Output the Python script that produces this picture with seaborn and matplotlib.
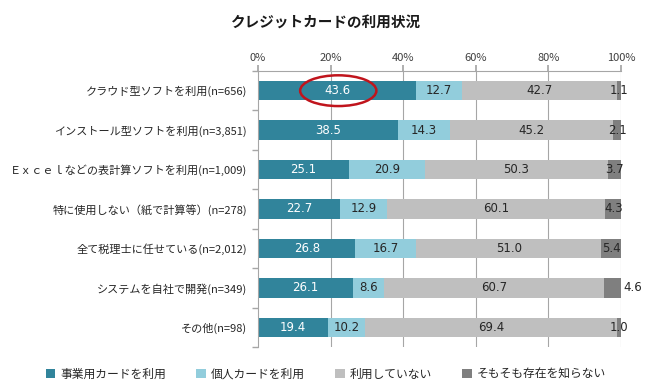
import matplotlib
matplotlib.use("Agg")
import matplotlib.pyplot as plt
from matplotlib.patches import Ellipse, Patch
import seaborn as sns
import pandas as pd
import numpy as np

categories = [
    "クラウド型ソフトを利用(n=656)",
    "インストール型ソフトを利用(n=3,851)",
    "Ｅｘｃｅｌなどの表計算ソフトを利用(n=1,009)",
    "特に使用しない（紙で計算等）(n=278)",
    "全て税理士に任せている(n=2,012)",
    "システムを自社で開発(n=349)",
    "その他(n=98)",
]
series_names = ["事業用カードを利用", "個人カードを利用", "利用していない", "そもそも存在を知らない"]
business_card = [43.6, 38.5, 25.1, 22.7, 26.8, 26.1, 19.4]
personal_card = [12.7, 14.3, 20.9, 12.9, 16.7, 8.6, 10.2]
not_using = [42.7, 45.2, 50.3, 60.1, 51.0, 60.7, 69.4]
unaware = [1.1, 2.1, 3.7, 4.3, 5.4, 4.6, 1.0]
xtick_labels = ["0%", "20%", "40%", "60%", "80%", "100%"]

colors = ["#31849B", "#92CDDC", "#BFBFBF", "#7F7F7F"]
text_colors = ["white", "#262626", "#262626", "#262626"]

sns.set_theme(style="white")
plt.rcParams['font.family'] = ['Noto Sans CJK JP', 'DejaVu Sans']

vals = np.array([business_card, personal_card, not_using, unaware], dtype=float)
totals = vals.sum(axis=0)
norm = vals / totals * 100
cum = np.cumsum(norm, axis=0)

df = pd.DataFrame({"cat": categories})
for i in range(4):
    df[f"c{i}"] = cum[i]

fig = plt.figure(figsize=(6.65, 3.91), dpi=100)
ax = fig.add_axes([0.388, 0.1125, 0.546, 0.706])

for i in range(3, -1, -1):
    sns.barplot(data=df, x=f"c{i}", y="cat", color=colors[i], width=0.49,
                ax=ax, orient="h", saturation=1, edgecolor="none")

ax.set_xlim(0, 100)
ax.set_ylim(6.5, -0.5)
ax.set_xlabel("")
ax.set_ylabel("")
ax.xaxis.tick_top()
ax.set_xticks([0, 20, 40, 60, 80, 100])
ax.set_xticklabels(xtick_labels)
ax.tick_params(axis="x", which="both", length=4, color="#A6A6A6", direction="out",
               labelsize=8, labelcolor="#404040", pad=2, top=True, bottom=False)
for xv in [20, 40, 60, 80, 100]:
    ax.axvline(xv, color="#A6A6A6", lw=0.8, zorder=0)
ax.set_axisbelow(True)

ax.set_yticks(range(len(categories)))
ax.set_yticklabels(categories)
ax.tick_params(axis="y", which="major", length=0, labelsize=8, labelcolor="#262626", pad=8)
ax.set_yticks(np.arange(-0.5, 7.0, 1.0), minor=True)
ax.tick_params(axis="y", which="minor", length=4, color="#A6A6A6", direction="out", left=True)

for s in ["right", "bottom"]:
    ax.spines[s].set_visible(False)
for s in ["left", "top"]:
    ax.spines[s].set_color("#A6A6A6")
    ax.spines[s].set_linewidth(0.8)

for r in range(len(categories)):
    for i in range(4):
        start = cum[i - 1][r] if i > 0 else 0.0
        center = start + norm[i][r] / 2
        label = f"{vals[i][r]:.1f}"
        x = center
        ha = "center"
        if i == 3 and r == 5:
            x = 100.6
            ha = "left"
        ax.text(x, r, label, ha=ha, va="center", fontsize=8.5,
                color=text_colors[i], family="DejaVu Sans", clip_on=False)

ell = Ellipse((business_card[0] / 2 + 0.3, 0), width=21, height=0.78, fill=False,
              edgecolor="#C0141C", lw=1.8, clip_on=False, zorder=5)
ax.add_patch(ell)

fig.text(0.49, 0.944, "クレジットカードの利用状況", ha="center", va="center",
         fontsize=10.5, fontweight="bold", color="#1a1a1a")

handles = [Patch(facecolor=c, edgecolor="none") for c in colors]
fig.legend(handles, series_names, loc="center", bbox_to_anchor=(0.49, 0.042), ncol=4,
           frameon=False, fontsize=8.5, handlelength=0.8, handleheight=0.8,
           handletextpad=0.4, columnspacing=2.6, labelcolor="#262626")

fig.savefig("out.png", dpi=100)
